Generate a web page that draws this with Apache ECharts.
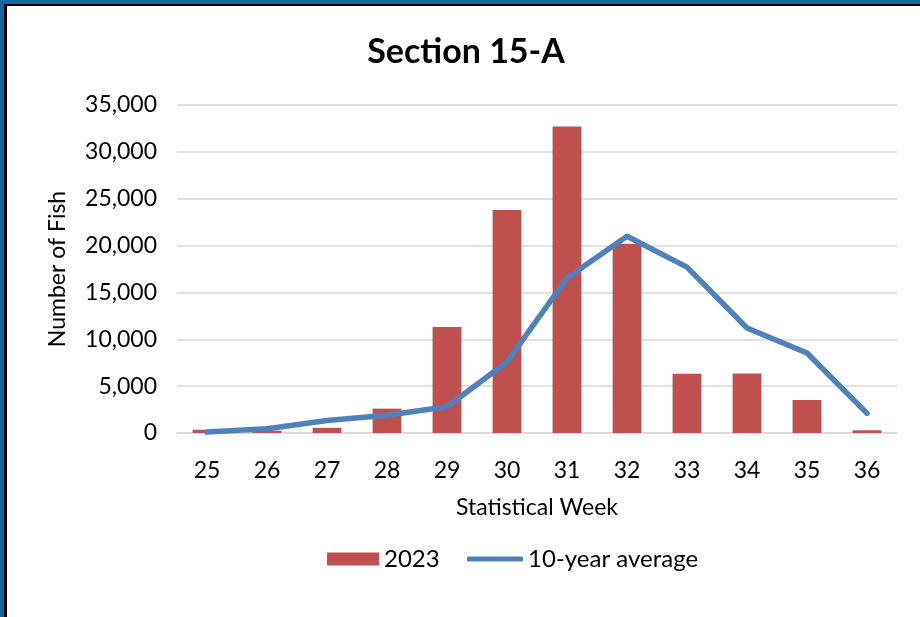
<!DOCTYPE html>
<html>
<head>
<meta charset="utf-8">
<script src="https://cdn.jsdelivr.net/npm/echarts@6/dist/echarts.min.js"></script>
<style>
html,body{margin:0;padding:0;background:#0e6a9b;width:920px;height:617px;overflow:hidden;}
#frame{position:absolute;left:4px;top:4px;width:916px;height:613px;background:#000;}
#chart{position:absolute;left:3px;top:2px;width:913px;height:611px;background:#fff;}
</style>
</head>
<body>
<div id="frame"><div id="chart"></div></div>
<script>
const weeks = ['25','26','27','28','29','30','31','32','33','34','35','36'];
const values2023 = [350, 250, 550, 2600, 11300, 23800, 32700, 20200, 6330, 6350, 3520, 290];
const tenYearAvg = [100, 450, 1330, 1900, 2800, 7580, 16540, 21000, 17700, 11200, 8540, 2100];
const yTicks = { min: 0, max: 35000, interval: 5000 };

const FONT = 'Lato, "Open Sans", sans-serif';
const legendText = { fontFamily: FONT, fontSize: 24, color: '#000' };
const chart = echarts.init(document.getElementById('chart'));
chart.setOption({
  animation: false,
  title: {
    text: 'Section 15-A',
    left: 454, top: 24, textAlign: 'center',
    textStyle: { fontFamily: FONT, fontWeight: 'bold', fontSize: 34, color: '#000' }
  },
  grid: { left: 170, right: 23, top: 99, bottom: 184 },
  legend: [
    { top: 536, left: 315, itemWidth: 52, itemHeight: 13, textStyle: legendText,
      data: [{ name: '2023', icon: 'rect' }] },
    { top: 536, left: 455, itemWidth: 56, itemHeight: 5, textStyle: legendText,
      data: [{ name: '10-year average', icon: 'roundRect', itemStyle: { color: '#4f81bd' } }] }
  ],
  xAxis: {
    type: 'category', data: weeks,
    name: 'Statistical Week', nameLocation: 'middle', nameGap: 63,
    nameTextStyle: { fontFamily: FONT, fontSize: 23, color: '#000' },
    axisLine: { lineStyle: { color: '#d9d9d9', width: 1.5 } },
    axisTick: { show: false },
    axisLabel: { fontFamily: FONT, fontSize: 23, color: '#000', margin: 26 }
  },
  yAxis: {
    type: 'value', min: yTicks.min, max: yTicks.max, interval: yTicks.interval,
    name: 'Number of Fish', nameLocation: 'middle', nameGap: 108,
    nameTextStyle: { fontFamily: FONT, fontSize: 23, color: '#000' },
    axisLabel: { fontFamily: FONT, fontSize: 23, color: '#000', margin: 20,
      formatter: v => v.toLocaleString('en-US') },
    splitLine: { lineStyle: { color: '#d9d9d9', width: 1.5 } },
    axisLine: { show: false }, axisTick: { show: false }
  },
  series: [
    { name: '2023', type: 'bar', data: values2023, barWidth: '48%',
      itemStyle: { color: '#c0504d' } },
    { name: '10-year average', type: 'line', data: tenYearAvg, symbol: 'none',
      lineStyle: { color: '#4f81bd', width: 5.5, cap: 'round', join: 'round' },
      itemStyle: { color: '#4f81bd' } }
  ]
});
</script>
</body>
</html>
